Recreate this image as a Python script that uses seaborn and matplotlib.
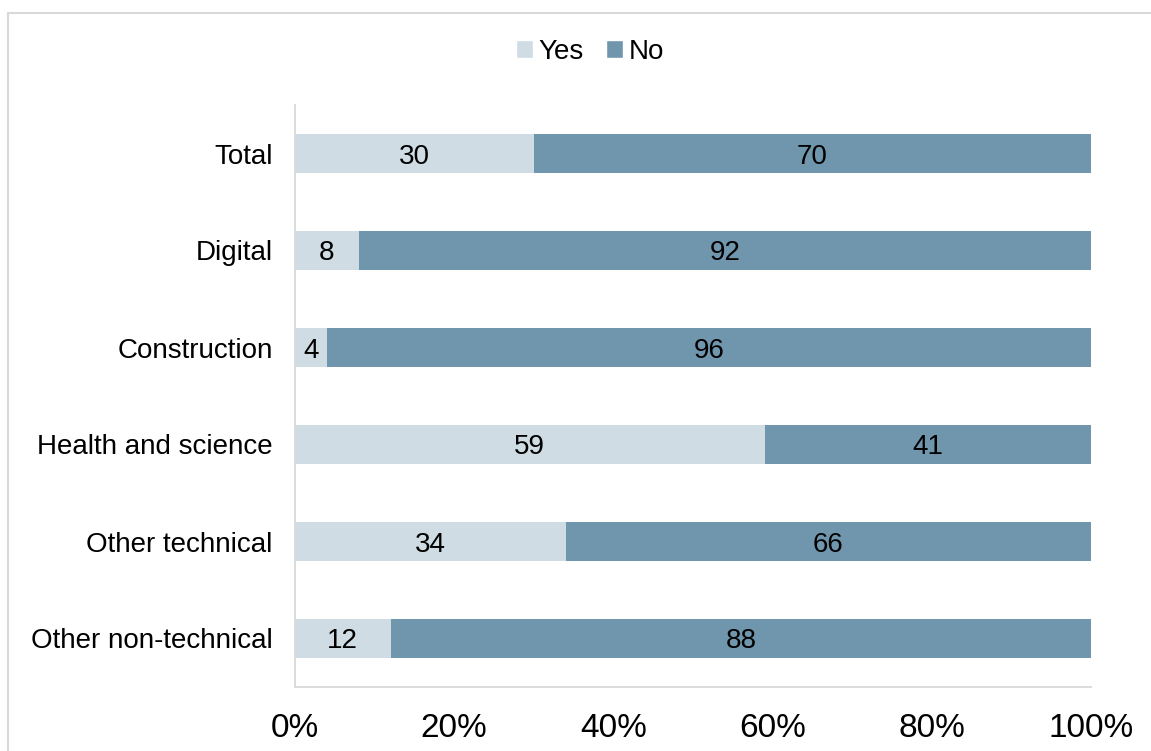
import matplotlib
matplotlib.use("Agg")
import matplotlib.pyplot as plt
from matplotlib.patches import Rectangle, Patch
import seaborn as sns
import pandas as pd

categories = ["Total", "Digital", "Construction", "Health and science",
              "Other technical", "Other non-technical"]
yes_values = [30, 8, 4, 59, 34, 12]
no_values = [70, 92, 96, 41, 66, 88]
x_ticks = [0, 20, 40, 60, 80, 100]
x_tick_labels = ["0%", "20%", "40%", "60%", "80%", "100%"]

YES_COLOR = "#CFDCE4"
NO_COLOR = "#7096AE"
GRID_GRAY = "#D9D9D9"

sns.set_theme(style="white")
plt.rcParams["font.family"] = ["Liberation Sans", "DejaVu Sans"]
plt.rcParams["text.color"] = "black"
plt.rcParams["xtick.labelcolor"] = "black"
plt.rcParams["ytick.labelcolor"] = "black"

df = pd.DataFrame({"category": categories, "yes": yes_values, "no": no_values})
df["total"] = df["yes"] + df["no"]

fig = plt.figure(figsize=(11.51, 7.51), dpi=100)
ax = fig.add_axes([295 / 1151, 1 - 687 / 751, (1091 - 295) / 1151, (687 - 105) / 751])

# stacked bars: full length in "No" colour, then "Yes" share on top
sns.barplot(data=df, y="category", x="total", color=NO_COLOR, width=0.4,
            saturation=1, ax=ax, orient="h", linewidth=0)
sns.barplot(data=df, y="category", x="yes", color=YES_COLOR, width=0.4,
            saturation=1, ax=ax, orient="h", linewidth=0)

for i, (y_v, n_v) in enumerate(zip(yes_values, no_values)):
    ax.text(y_v / 2, i, f"{y_v}", ha="center", va="center_baseline", fontsize=20, color="black")
    ax.text(y_v + n_v / 2, i, f"{n_v}", ha="center", va="center_baseline", fontsize=20, color="black")

ax.set_xlim(0, 100)
ax.set_ylim(len(categories) - 0.5, -0.5)
ax.set_xticks(x_ticks)
ax.set_xticklabels(x_tick_labels, fontsize=24)
ax.tick_params(axis="x", direction="out", length=10, color=GRID_GRAY, width=1.3, pad=9,
               labelcolor="black")
ax.tick_params(axis="y", length=0, labelsize=20, pad=16, labelcolor="black")
for lbl in ax.get_yticklabels():
    lbl.set_verticalalignment("center_baseline")
ax.set_xlabel("")
ax.set_ylabel("")

for side in ["top", "right"]:
    ax.spines[side].set_visible(False)
for side in ["left", "bottom"]:
    ax.spines[side].set_color(GRID_GRAY)
    ax.spines[side].set_linewidth(1.3)

handles = [Patch(facecolor=YES_COLOR, label="Yes"), Patch(facecolor=NO_COLOR, label="No")]
leg = fig.legend(handles=handles, loc="center", bbox_to_anchor=(590 / 1151, 1 - 52 / 751),
                 ncol=2, frameon=False, fontsize=20, handlelength=0.6, handleheight=0.6,
                 handletextpad=0.2, columnspacing=0.8)
for t in leg.get_texts():
    t.set_color("black")

# outer chart frame
fig.patches.append(Rectangle((8 / 1151, -0.1), 1.2, 1 - 13 / 751 + 0.1,
                             transform=fig.transFigure, fill=False,
                             edgecolor=GRID_GRAY, linewidth=1.5))

fig.savefig("out.png", dpi=100)
